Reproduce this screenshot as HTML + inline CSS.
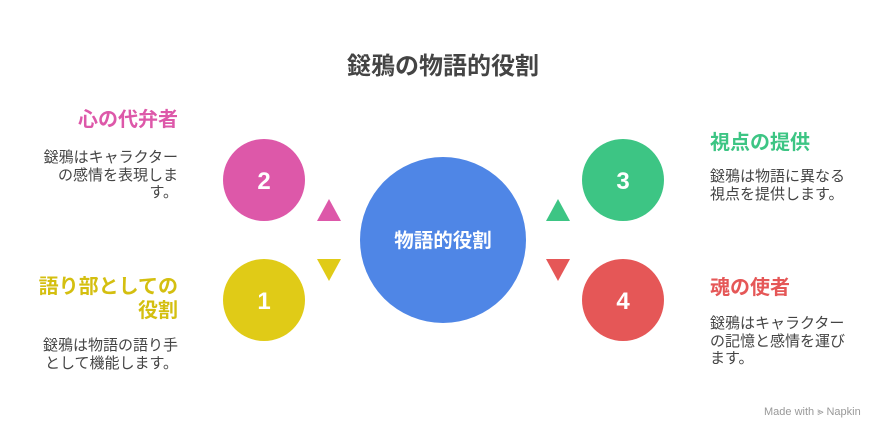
<!DOCTYPE html>
<html><head><meta charset="utf-8"><style>
body{margin:0;width:888px;height:432px;background:#fff;position:relative;overflow:hidden;font-family:"Liberation Sans","Noto Sans CJK JP",sans-serif}
.t{position:absolute;white-space:nowrap}
.h{font-size:20px;font-weight:bold;line-height:24px}
.d{font-size:15px;color:#444;line-height:17.5px}
.r{text-align:right}
</style></head><body>
<svg width="888" height="432" style="position:absolute;left:0;top:0">
<circle cx="443" cy="240" r="83" fill="#4f86e6"/>
<circle cx="264" cy="180" r="41" fill="#dd58a9"/>
<circle cx="264" cy="300" r="41" fill="#e0cb17"/>
<circle cx="623" cy="180" r="41" fill="#3dc584"/>
<circle cx="623" cy="300" r="41" fill="#e55757"/>
<polygon points="317,221 341,221 329,199" fill="#dd58a9"/>
<polygon points="317,259 341,259 329,281" fill="#e0cb17"/>
<polygon points="546,221 570,221 558,199" fill="#3dc584"/>
<polygon points="546,259 570,259 558,281" fill="#e55757"/>
<g font-family="Liberation Sans, sans-serif" font-weight="bold" font-size="24" fill="#fff" text-anchor="middle">
<text x="264" y="189">2</text><text x="264" y="309">1</text>
<text x="623" y="189">3</text><text x="623" y="309">4</text>
</g>
<text x="443" y="247" font-family="Liberation Sans, Noto Sans CJK JP, sans-serif" font-weight="bold" font-size="19.5" fill="#fff" text-anchor="middle">物語的役割</text>
<text x="443" y="74" font-family="Liberation Sans, Noto Sans CJK JP, sans-serif" font-weight="bold" font-size="24" fill="#444" text-anchor="middle">鎹鴉の物語的役割</text>
</svg>
<div class="t h r" style="right:710px;top:108px;color:#dd58a9">心の代弁者</div>
<div class="t d r" style="right:710px;top:149px">鎹鴉はキャラクター<br>の感情を表現しま<br>す。</div>
<div class="t h r" style="right:710px;top:275px;color:#d4bf10">語り部としての<br>役割</div>
<div class="t d r" style="right:710px;top:337px">鎹鴉は物語の語り手<br>として機能します。</div>
<div class="t h" style="left:710px;top:131px;color:#3dc584">視点の提供</div>
<div class="t d" style="left:710px;top:168px">鎹鴉は物語に異なる<br>視点を提供します。</div>
<div class="t h" style="left:710px;top:276px;color:#e55757">魂の使者</div>
<div class="t d" style="left:710px;top:315px">鎹鴉はキャラクター<br>の記憶と感情を運び<br>ます。</div>
<div class="t" style="left:764px;top:406px;font-size:11px;color:#999">Made with ⪢ Napkin</div>
</body></html>
